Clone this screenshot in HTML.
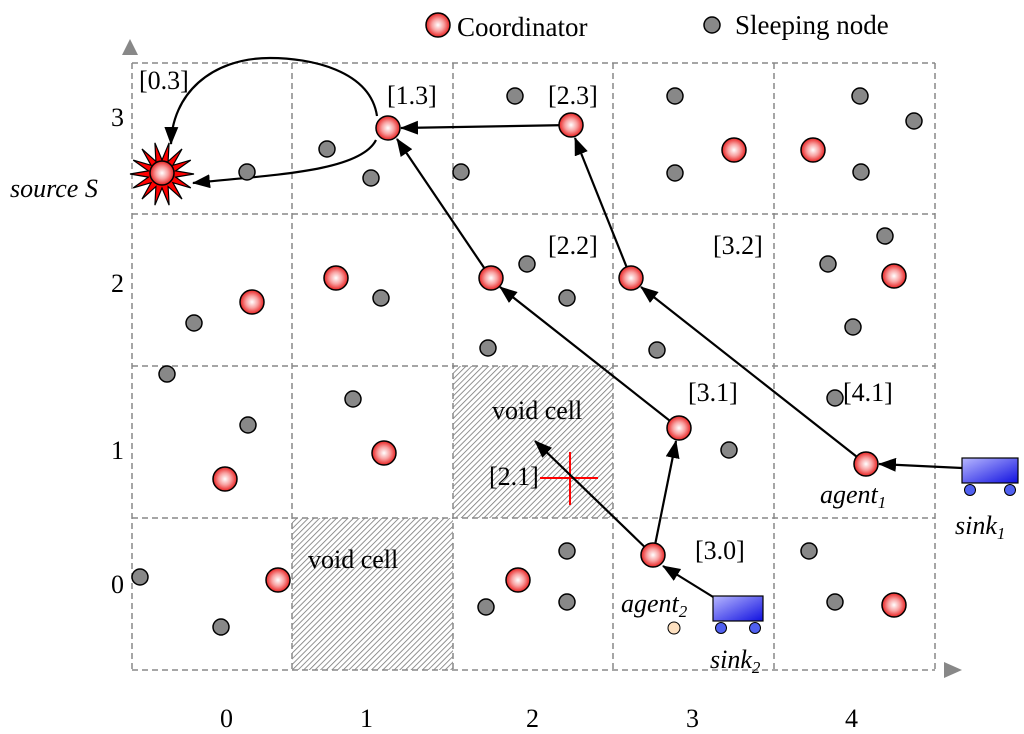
<!DOCTYPE html>
<html><head><meta charset="utf-8"><style>
html,body{margin:0;padding:0;background:#fff;}
svg{display:block;font-family:"Liberation Serif",serif;}
</style></head><body>
<svg id="c" width="1024" height="734" viewBox="0 0 1024 734">
<defs>
<radialGradient id="rg" cx="50%" cy="50%" r="50%"><stop offset="0" stop-color="#fff"/><stop offset="0.5" stop-color="#f8a0a0"/><stop offset="1" stop-color="#e82020"/></radialGradient>
<linearGradient id="bg" x1="0" y1="0" x2="1" y2="1"><stop offset="0" stop-color="#b8b8ff"/><stop offset="1" stop-color="#1010e0"/></linearGradient>
<pattern id="hatch" width="4" height="4" patternUnits="userSpaceOnUse" patternTransform="rotate(45)"><rect width="4" height="4" fill="#fff"/><line x1="0" y1="0" x2="0" y2="4" stroke="#777" stroke-width="1.6"/></pattern>
<marker id="ah" markerWidth="18" markerHeight="14" refX="17" refY="7" orient="auto" markerUnits="userSpaceOnUse" viewBox="0 0 18 14"><path d="M0,0 L18,7 L0,14 z" fill="#000"/></marker>
</defs>
<g id="grid">
<rect x="292" y="518" width="161" height="152" fill="url(#hatch)"/>
<rect x="453" y="366" width="160" height="152" fill="url(#hatch)"/>
</g>
<g id="marks"></g>
<g>
<circle cx="438" cy="25" r="12" fill="url(#rg)" stroke="#000" stroke-width="1.5"/>
<text x="457" y="36" font-size="27">Coordinator</text>
<circle cx="712" cy="25" r="8" fill="#888" stroke="#000" stroke-width="1.5"/>
<text x="735" y="34" font-size="27">Sleeping node</text>
</g>
<polygon points="122,55 138,55 130,39" fill="#888"/>
<polygon points="944,662 944,678 962,670" fill="#888"/>
<g font-size="26">
<text x="111" y="126">3</text>
<text x="111" y="292">2</text>
<text x="111" y="459">1</text>
<text x="111" y="593">0</text>
<text x="220" y="727">0</text>
<text x="360" y="727">1</text>
<text x="526" y="727">2</text>
<text x="686" y="727">3</text>
<text x="845" y="727">4</text>
</g>
<g font-size="26">
<text x="139" y="89">[0.3]</text>
<text x="387" y="104">[1.3]</text>
<text x="548" y="104">[2.3]</text>
<text x="548" y="254">[2.2]</text>
<text x="713" y="254">[3.2]</text>
<text x="688" y="401">[3.1]</text>
<text x="843" y="401">[4.1]</text>
<text x="489" y="485">[2.1]</text>
<text x="695" y="559">[3.0]</text>
<text x="492" y="419">void cell</text>
<text x="308" y="568">void cell</text>
<text x="10" y="197" font-style="italic">source S</text>
<text x="820" y="503" font-style="italic">agent<tspan font-size="17" dy="5">1</tspan></text>
<text x="621" y="612" font-style="italic">agent<tspan font-size="17" dy="5">2</tspan></text>
<text x="955" y="534" font-style="italic">sink<tspan font-size="17" dy="5">1</tspan></text>
<text x="710" y="668" font-style="italic">sink<tspan font-size="17" dy="5">2</tspan></text>
</g>
</svg>
<script>
const colEdges=[132,292,453,613,774,935];
const rowEdges=[63,214,366,518,670];
const coordinators=[[388,128],[571,125],[734,150],[813,150],[491,278],[631,278],[894,276],[336,278],[252,302],[679,428],[866,464],[384,453],[225,479],[278,580],[653,555],[518,580],[894,605]];
const sleeping=[[515,96],[675,96],[860,96],[914,121],[327,149],[371,178],[247,172],[461,172],[675,173],[861,172],[885,236],[527,264],[828,264],[567,298],[853,327],[194,323],[381,298],[488,348],[657,350],[167,374],[248,425],[353,399],[729,450],[835,398],[567,551],[809,551],[140,577],[486,607],[567,602],[835,602],[221,627]];
const arrows=[[571,125,401,128],[491,278,397,139],[679,428,500,287],[631,278,575,138],[866,464,641,287],[962,468,879,464],[653,555,676,441],[653,555,535,441],[718,600,663,566]];
const NS="http://www.w3.org/2000/svg";
const svg=document.getElementById('c'),g=document.getElementById('grid'),m=document.getElementById('marks');
function mk(tag,at,p){const e=document.createElementNS(NS,tag);for(const k in at)e.setAttribute(k,at[k]);(p||m).appendChild(e);return e;}
colEdges.forEach((x,i)=>{const l=mk('line',{x1:x,y1:63,x2:x,y2:670,stroke:'#888','stroke-width':1.5,'stroke-dasharray':'6,4'},g);

});
rowEdges.forEach((y,i)=>{const l=mk('line',{x1:132,y1:y,x2:935,y2:y,stroke:'#888','stroke-width':1.5,'stroke-dasharray':'6,4'},g);

});
let cr=mk('path',{d:'M540,478 H598 M570,452 V505',stroke:'#f00','stroke-width':2,fill:'none'});


let c1=mk('path',{d:'M376,140 C360,172 270,175 193,183',stroke:'#000','stroke-width':2.2,fill:'none','marker-end':'url(#ah)'});


let c2=mk('path',{d:'M377,116 C370,70 310,58 270,58 C210,58 172,95 171,144',stroke:'#000','stroke-width':2.2,fill:'none','marker-end':'url(#ah)'});


arrows.forEach(a=>{const l=mk('line',{x1:a[0],y1:a[1],x2:a[2],y2:a[3],stroke:'#000','stroke-width':2.2,'marker-end':'url(#ah)'});

});
let pts=[];for(let i=0;i<28;i++){const r=i%2?14:32,a=i*Math.PI/14;pts.push((162+r*Math.cos(a)).toFixed(1)+','+(174+r*Math.sin(a)).toFixed(1));}
let st=mk('polygon',{points:pts.join(' '),fill:'#f00',stroke:'#000','stroke-width':1.2});


sleeping.forEach(p=>{const c=mk('circle',{cx:p[0],cy:p[1],r:8,fill:'#888',stroke:'#000','stroke-width':1.5});

});
coordinators.concat([[162,173]]).forEach(p=>{const c=mk('circle',{cx:p[0],cy:p[1],r:12,fill:'url(#rg)',stroke:'#000','stroke-width':1.5});

});
let tn=mk('circle',{cx:674,cy:628,r:6,fill:'#fde0c0',stroke:'#000','stroke-width':1});


[[962,458,56,25],[713,596,50,25]].forEach((s,i)=>{const r=mk('rect',{x:s[0],y:s[1],width:s[2],height:s[3],fill:'url(#bg)',stroke:'#000','stroke-width':1.2});


[s[0]+8,s[0]+s[2]-8].forEach(x=>{const w=mk('circle',{cx:x,cy:s[1]+s[3]+7,r:5.5,fill:'#5060f0',stroke:'#000','stroke-width':1});

});});
</script>
</body></html>
